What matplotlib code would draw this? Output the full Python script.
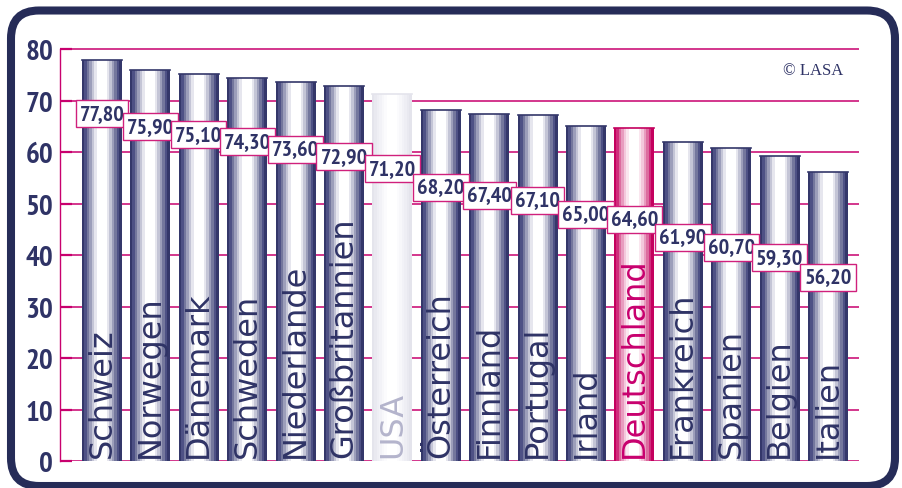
import numpy as np
import matplotlib
matplotlib.use("Agg")
import matplotlib.pyplot as plt
from matplotlib.patches import FancyBboxPatch
from matplotlib.colors import to_rgb

# Daten
laender = ['Schweiz', 'Norwegen', 'Dänemark', 'Schweden', 'Niederlande', 'Großbritannien',
           'USA', 'Österreich', 'Finnland', 'Portugal', 'Irland', 'Deutschland',
           'Frankreich', 'Spanien', 'Belgien', 'Italien']
werte = [77.80, 75.90, 75.10, 74.30, 73.60, 72.90, 71.20, 68.20, 67.40, 67.10,
         65.00, 64.60, 61.90, 60.70, 59.30, 56.20]
y_ticks = [0, 10, 20, 30, 40, 50, 60, 70, 80]

navy = '#2f3366'
magenta = '#c8006e'
rahmen = '#262c58'
schmal = 'PT Sans Narrow'
breit = 'DejaVu Sans'

# Farbstufen fuer den Zylinder-Effekt (Rand -> Mitte)
stufen_blau = ['#34376a', '#4e5185', '#74779d', '#9c9eba', '#c4c5d6', '#e6e6ee', '#ffffff']
stufen_pink = ['#c4005e', '#cf2d7c', '#dc6c9f', '#e89cbf', '#f3c8dc', '#fae6ef', '#ffffff']
stufen_grau = ['#e4e4ec', '#e9e9f0', '#eeeef4', '#f2f2f7', '#f7f7fa', '#fbfbfd', '#ffffff']


def verlauf(stufen):
    seq = stufen + [stufen[-1]] * 2 + stufen[::-1]
    return np.array([[to_rgb(c) for c in seq]])


def stil(land):
    if land == 'USA':
        return stufen_grau, '#b4b4cc'
    if land == 'Deutschland':
        return stufen_pink, magenta
    return stufen_blau, navy


fig = plt.figure(figsize=(9.02, 4.89), dpi=100)

# Rahmen mit runden Ecken (Pixelkoordinaten)
bg = fig.add_axes([0, 0, 1, 1])
bg.set_xlim(0, 902)
bg.set_ylim(0, 489)
bg.axis('off')
bg.add_patch(FancyBboxPatch((11, 2), 884, 475.5, boxstyle='round,pad=0,rounding_size=28',
                            lw=5.8, ec=rahmen, fc='none'))

y_max = 80.5
ax = fig.add_axes([60 / 902, 26.7 / 489, 799 / 902, y_max * 5.154 / 489])
ax.set_facecolor('none')

x = np.arange(len(laender))
breite = 0.826
balken = ax.bar(x, werte, width=breite, color='none', linewidth=0, zorder=2)

for i, (b, land, w) in enumerate(zip(balken, laender, werte)):
    stufen, textfarbe = stil(land)
    im = ax.imshow(verlauf(stufen), extent=[i - breite / 2, i + breite / 2, 0, w],
                   aspect='auto', interpolation='nearest', zorder=2)
    im.set_clip_path(b)
    ax.plot([i - breite / 2, i + breite / 2], [w, w], color=stufen[0], lw=1.2, zorder=3)
    # Laendername senkrecht im Balken
    ax.text(i, 0.8, land, rotation=90, ha='center', va='bottom', fontsize=23,
            family=breit, color=textfarbe, zorder=4)
    # Wertebox, nach rechts hin tiefer gestaffelt
    y_label = w - (10.3 + 0.68 * i)
    ax.text(i, y_label, f'{w:.2f}'.replace('.', ','), ha='center', va='center',
            fontsize=16, fontweight='bold', color=navy, family=schmal, zorder=5,
            bbox=dict(boxstyle='square,pad=0.18', fc='white', ec='#d0207c', lw=1))

ax.set_xlim(-0.868, 15.64)
ax.set_ylim(0, y_max)
ax.set_xticks([])
ax.set_yticks(y_ticks)
ax.set_yticklabels([str(t) for t in y_ticks], fontsize=21, fontweight='bold', color=navy,
                   family=schmal)
ax.tick_params(axis='y', direction='in', length=8.5, width=1.6, color=magenta, pad=5)
ax.yaxis.grid(True, color=magenta, lw=1.1)
ax.set_axisbelow(True)
for s in ['top', 'right', 'bottom']:
    ax.spines[s].set_visible(False)
ax.spines['left'].set_color(magenta)
ax.spines['left'].set_linewidth(1)
ax.spines['left'].set_bounds(0, 80)

fig.text(783 / 902, 1 - 71 / 489, '© LASA', family='Liberation Serif', fontsize=12,
         color=navy, va='center', ha='left')

fig.savefig('out.png', dpi=100)
